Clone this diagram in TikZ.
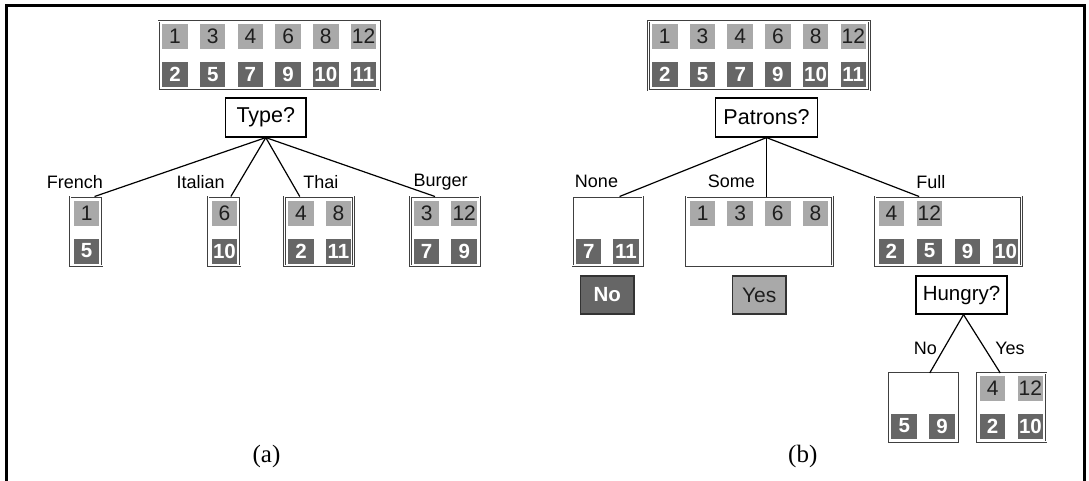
\documentclass[tikz,border=0pt]{standalone}
\usepackage{fontspec}
\setmainfont{Liberation Serif}
\setsansfont{Liberation Sans}
\definecolor{lgray}{HTML}{A9A9A9}
\definecolor{dgray}{HTML}{666666}
\definecolor{txtdark}{HTML}{1E1E1E}
\tikzset{
  sql/.style={fill=lgray, text=txtdark, inner sep=0pt, minimum width=25.5pt, minimum height=25pt,
    font=\sffamily\fontsize{21}{24}\selectfont},
  sqd/.style={fill=dgray, text=white, inner sep=0pt, minimum width=25.5pt, minimum height=25pt,
    font=\sffamily\bfseries\fontsize{20.5}{24}\selectfont},
  grpbox/.style={draw=black!75, double=white, double distance=0.9pt, line width=0.7pt,
    inner sep=0pt, minimum height=69pt},
  qbox/.style={draw=black, line width=1.2pt, inner sep=0pt, minimum height=39pt,
    font=\sffamily\fontsize{21.5}{26}\selectfont},
  ansbox/.style={draw=black!80, line width=1.3pt, inner sep=0pt, minimum height=38pt, minimum width=53.4pt},
  brlbl/.style={inner sep=0pt, font=\sffamily\fontsize{18}{21}\selectfont},
  conn/.style={draw=black, line width=1.2pt},
  caplbl/.style={inner sep=0pt, font=\rmfamily\fontsize{25}{28}\selectfont},
}
\begin{document}
\begin{tikzpicture}[x=1pt,y=-1pt]
\useasboundingbox (0,0) rectangle (1089,480);
% outer frame
\draw[line width=3pt] (6.5,481) -- (6.5,5.5) -- (1084.5,5.5) -- (1084.5,481);

% ================= (a) =================
\node[grpbox, minimum width=221pt] (atop) at (269.3,55.5) {};
\foreach \n [count=\i from 0] in {1,3,4,6,8,12}
  \node[sql] (atl\n) at (175+37.7*\i,36.5) {\n};
\foreach \n [count=\i from 0] in {2,5,7,9,10,11}
  \node[sqd] (atd\n) at (175+37.7*\i,74.5) {\n};

\node[qbox, minimum width=80.5pt] (type) at (265.8,117.5) {Type?};

\node[grpbox, minimum width=32pt] (french) at (86.2,231.35) {};
\node[sql] (fr1) at (86.6,213) {1};
\node[sqd] (fr5) at (86.6,251) {5};

\node[grpbox, minimum width=32pt] (italian) at (224.3,231.35) {};
\node[sql] (it6) at (224.5,213) {6};
\node[sqd] (it10) at (224.5,251) {10};

\node[grpbox, minimum width=69pt] (thai) at (319,231.35) {};
\node[sql] (th4) at (301,213) {4};
\node[sql] (th8) at (338.4,213) {8};
\node[sqd] (th2) at (301,251) {2};
\node[sqd] (th11) at (338.4,251) {11};

\node[grpbox, minimum width=69.3pt] (burger) at (445,231.35) {};
\node[sql] (bu3) at (426.6,213) {3};
\node[sql] (bu12) at (464.2,213) {12};
\node[sqd] (bu7) at (426.6,251) {7};
\node[sqd] (bu9) at (464.2,251) {9};

\draw[conn] (type.south) -- ([xshift=-8pt]french.north east);
\draw[conn] (type.south) -- ([xshift=-9.8pt]italian.north east);
\draw[conn] (type.south) -- ([xshift=15.6pt]thai.north west);
\draw[conn] (type.south) -- ([xshift=25pt]burger.north west);

\node[brlbl] (lfrench) at (74.9,181.7) {French};
\node[brlbl] (litalian) at (200.6,181.7) {Italian};
\node[brlbl] (lthai) at (320.8,181.7) {Thai};
\node[brlbl] (lburger) at (440.7,181.7) {Burger};

\node[caplbl] (capa) at (266.5,456.7) {(a)};

% ================= (b) =================
\node[grpbox, minimum width=221pt] (btop) at (759.1,55.5) {};
\foreach \n [count=\i from 0] in {1,3,4,6,8,12}
  \node[sql] (btl\n) at (664.8+37.7*\i,36.5) {\n};
\foreach \n [count=\i from 0] in {2,5,7,9,10,11}
  \node[sqd] (btd\n) at (664.8+37.7*\i,74.5) {\n};

\node[qbox, minimum width=101.8pt] (patrons) at (766.5,117.5) {Patrons?};

\node[grpbox, minimum width=69.9pt] (none) at (607.85,231.35) {};
\node[sqd] (no7) at (588.7,251) {7};
\node[sqd] (no11) at (625.9,251) {11};

\node[grpbox, minimum width=146.3pt] (some) at (759.25,231.35) {};
\foreach \n [count=\i from 0] in {1,3,6,8}
  \node[sql] (so\n) at (702.6+37.6*\i,213) {\n};

\node[grpbox, minimum width=146.3pt] (full) at (948.4,231.35) {};
\node[sql] (fu4) at (891.4,213) {4};
\node[sql] (fu12) at (929.4,213) {12};
\foreach \n [count=\i from 0] in {2,5,9,10}
  \node[sqd] (fu\n) at (891.4+38.1*\i,251) {\n};

\draw[conn] (patrons.south) -- ([xshift=-23.6pt]none.north east);
\draw[conn] (patrons.south) -- (patrons.south |- some.north);
\draw[conn] (patrons.south) -- ([xshift=44.2pt]full.north west);

\node[brlbl] (lnone) at (596.5,181.7) {None};
\node[brlbl] (lsome) at (731.3,181.7) {Some};
\node[brlbl] (lfull) at (930.9,181.7) {Full};

\node[ansbox, fill=dgray, text=white, font=\sffamily\bfseries\fontsize{20.5}{24}\selectfont] (ansno) at (607.35,294.9) {No};
\node[ansbox, fill=lgray, text=txtdark, font=\sffamily\fontsize{21}{24}\selectfont] (ansyes) at (759.25,294.9) {Yes};

\node[qbox, minimum width=91pt, minimum height=38pt, font=\sffamily\fontsize{20.5}{24}\selectfont] (hungry) at (961.5,295) {Hungry?};

\node[grpbox, minimum width=68.7pt, minimum height=68.4pt] (hno) at (923.45,407.5) {};
\node[sqd] (hn5) at (904.2,426) {5};
\node[sqd] (hn9) at (942.1,426) {9};

\node[grpbox, minimum width=69pt, minimum height=68.4pt] (hyes) at (1011.5,407.5) {};
\node[sql] (hy4) at (992.6,388.5) {4};
\node[sql] (hy12) at (1030.4,388.5) {12};
\node[sqd] (hy2) at (992.6,426) {2};
\node[sqd] (hy10) at (1030.4,426) {10};

\draw[conn] ([xshift=2pt]hungry.south) -- ([xshift=41pt]hno.north west);
\draw[conn] ([xshift=2pt]hungry.south) -- ([xshift=23.6pt]hyes.north west);

\node[brlbl] (lhno) at (925.4,348.3) {No};
\node[brlbl] (lhyes) at (1010,348.3) {Yes};

\node[caplbl] (capb) at (802.8,456.7) {(b)};
\end{tikzpicture}
\end{document}
